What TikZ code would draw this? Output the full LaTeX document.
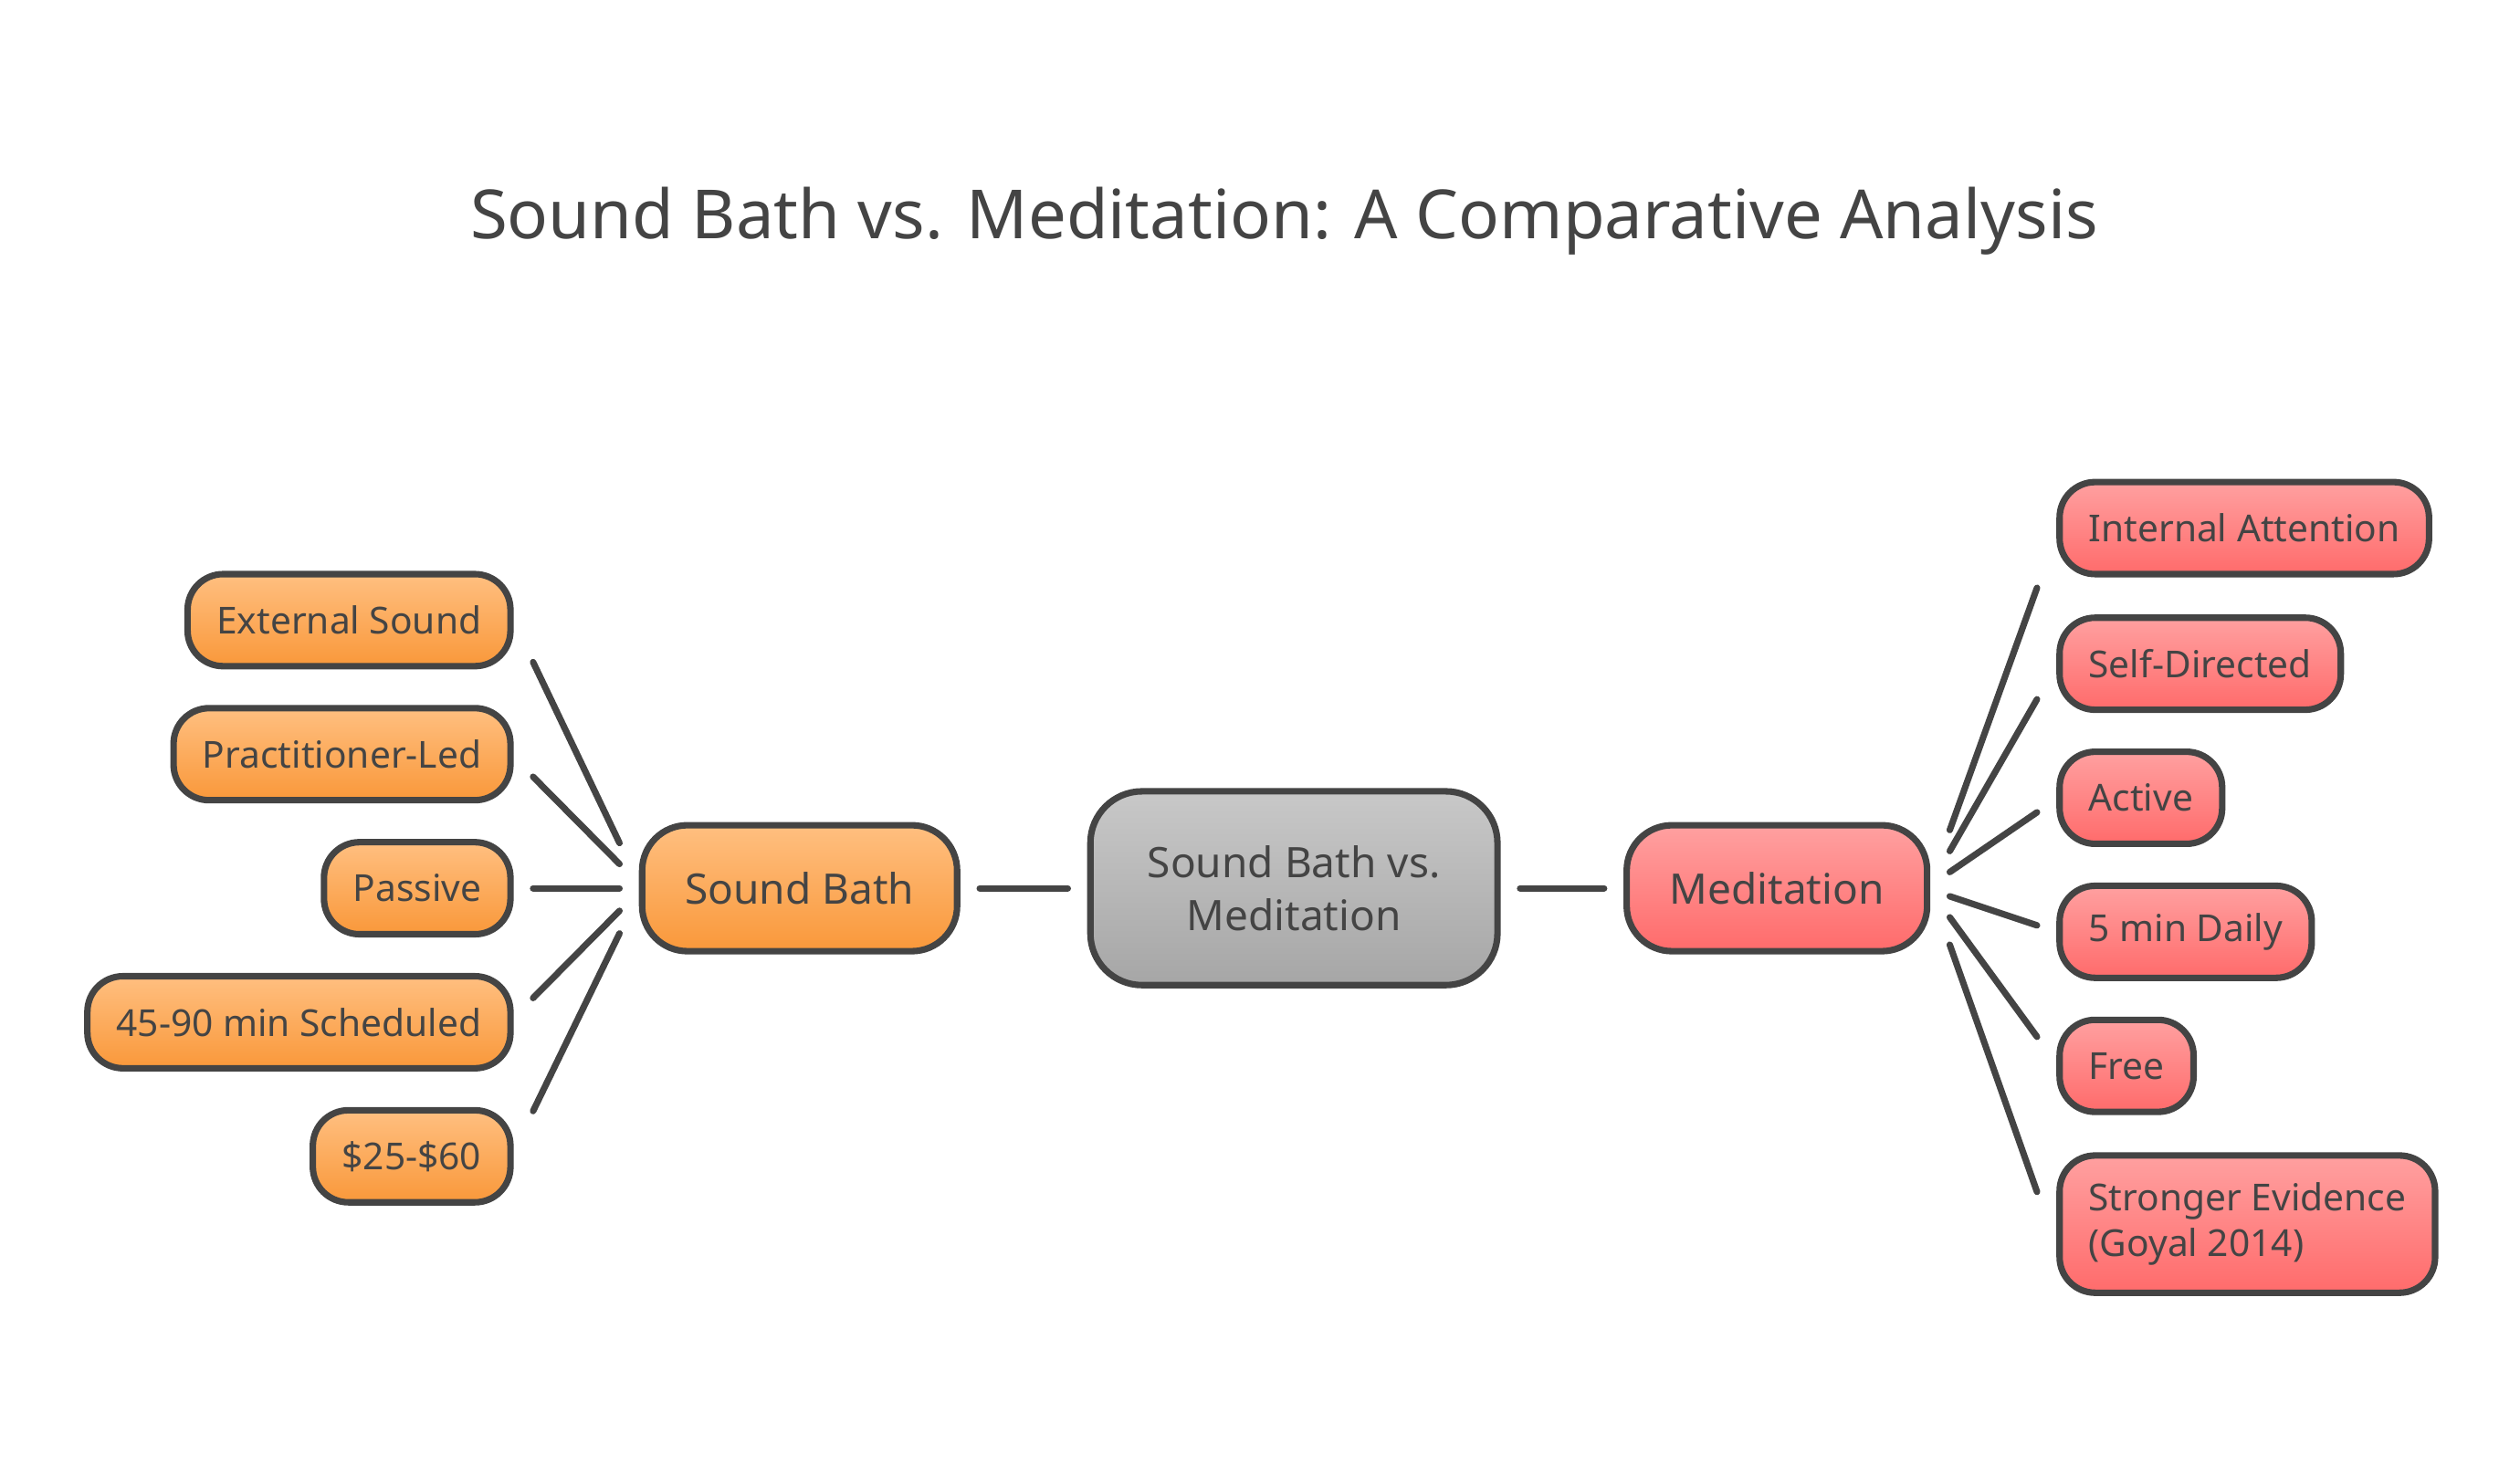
\documentclass[tikz,border=0pt]{standalone}
\usepackage{fontspec}
\setmainfont{Noto Sans}
\usepackage{tikz}
\usetikzlibrary{calc}
\definecolor{ink}{HTML}{444444}
\tikzstyle{box}=[draw=ink,line width=2pt,rounded corners=11pt,text=ink,font=\fontsize{11.5}{14}\selectfont,minimum height=28.5pt,inner xsep=9pt]
\tikzstyle{snd}=[box,top color={rgb,255:red,255;green,191;blue,128},bottom color={rgb,255:red,249;green,152;blue,58}]
\tikzstyle{med}=[box,top color={rgb,255:red,255;green,160;blue,160},bottom color={rgb,255:red,255;green,107;blue,107}]
\tikzstyle{link}=[draw=ink,line width=2pt,line cap=round]
\begin{document}
\begin{tikzpicture}[x=0.5pt,y=-0.5pt]
	\useasboundingbox (0,0) rectangle (1560,907);
	\node[text=ink,font=\fontsize{21}{25}\bfseries] (title) at (795,137) {Sound Bath vs. Meditation: A Comparative Analysis};
	%
	\node[box,top color={rgb,255:red,200;green,200;blue,200},bottom color={rgb,255:red,166;green,166;blue,166},minimum width=126pt,minimum height=60pt,align=center,rounded corners=16pt,font=\fontsize{13}{16.5}\selectfont] (root) at (801,550) {Sound Bath vs.\\Meditation};
	\node[snd,minimum width=97.5pt,minimum height=39pt,rounded corners=14pt,font=\fontsize{13}{16}\selectfont] (bath) at (495,550) {Sound Bath};
	\node[med,minimum width=93pt,minimum height=39pt,rounded corners=14pt,font=\fontsize{13}{16}\selectfont] (medi) at (1100,550) {Meditation};
	%
	\node[snd,anchor=east] (ext)  at (318,384) {External Sound};
	\node[snd,anchor=east] (prac) at (318,467) {Practitioner-Led};
	\node[snd,anchor=east] (pass) at (318,550) {Passive};
	\node[snd,anchor=east] (sched) at (318,633) {45-90 min Scheduled};
	\node[snd,anchor=east] (cost) at (318,716) {\$25-\$60};
	%
	\node[med,anchor=west] (intl) at (1273,327) {Internal Attention};
	\node[med,anchor=west] (self) at (1273,411) {Self-Directed};
	\node[med,anchor=west] (actv) at (1273,494) {Active};
	\node[med,anchor=west] (daily) at (1273,577) {5 min Daily};
	\node[med,anchor=west] (free) at (1273,660) {Free};
	\node[med,anchor=west,align=left,minimum height=42.5pt] (evid) at (1273,758) {Stronger Evidence\\(Goyal 2014)};
	%
	\draw[link] ($(bath.east)+(12,0)$) -- ($(root.west)+(-12,0)$);
	\draw[link] ($(root.east)+(12,0)$) -- ($(medi.west)+(-12,0)$);
	\foreach \leaf/\ly/\by in {ext/410/522,prac/481/535,pass/550/550,sched/618/564,cost/688/578}
		\draw[link] (\leaf.east |- 0,\ly) ++(12,0) -- ($(bath.west |- 0,\by)+(-12,0)$);
	\foreach \leaf/\ly/\my in {intl/364/514,self/433/527,actv/503/540,daily/573/555,free/642/568,evid/738/585}
		\draw[link] ($(medi.east |- 0,\my)+(12,0)$) -- ($(\leaf.west |- 0,\ly)+(-12,0)$);
\end{tikzpicture}
\end{document}
